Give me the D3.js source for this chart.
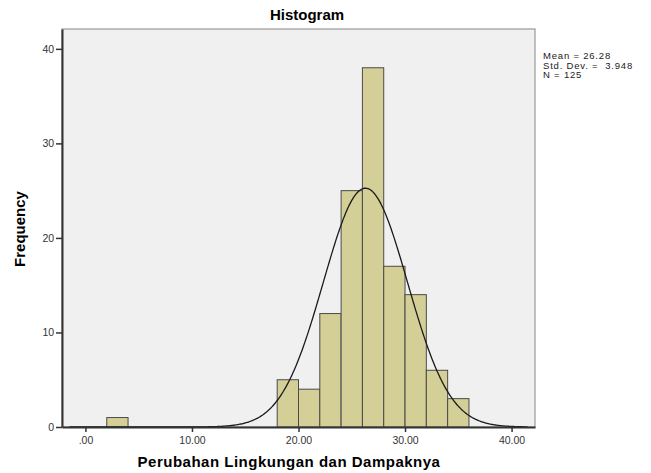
<!DOCTYPE html>
<html>
<head>
<meta charset="utf-8">
<script src="https://cdn.jsdelivr.net/npm/d3@7"></script>
<style>
body { margin: 0; background: #fff; }
text { font-family: "Liberation Sans", Arial, sans-serif; }
</style>
</head>
<body>
<svg id="chart" width="651" height="473"></svg>
<script>
// histogram bins (lower edge, width 2)
var binStarts = [2, 18, 20, 22, 24, 26, 28, 30, 32, 34];
var binCounts = [1, 5, 4, 12, 25, 38, 17, 14, 6, 3];
var binWidth = 2;
var xTicks = [0, 10, 20, 30, 40];
var yTicks = [0, 10, 20, 30, 40];
var stats = { mean: 26.28, sd: 3.948, n: 125 };
var statLines = ["Mean = 26.28", "Std. Dev. =  3.948", "N = 125"];

var svg = d3.select("#chart");
var plotL = 62, plotR = 535, plotT = 29, plotB = 427;

var x = d3.scaleLinear().domain([-2.2, 42.2]).range([plotL, plotR]);
var y = d3.scaleLinear().domain([0, 42.1]).range([plotB, plotT]);

// plot frame
svg.append("rect")
	.attr("x", plotL).attr("y", plotT)
	.attr("width", plotR - plotL).attr("height", plotB - plotT)
	.attr("fill", "#f0f0f0")
	.attr("stroke", "#999").attr("stroke-width", 1.2);

var bins = binStarts.map((s, i) => ({ x0: s, x1: s + binWidth, count: binCounts[i] }));

svg.selectAll(".bar")
	.data(bins)
	.enter()
	.append("rect")
	.classed("bar", true)
	.attr("x", d => x(d.x0))
	.attr("y", d => y(d.count))
	.attr("width", d => x(d.x1) - x(d.x0))
	.attr("height", d => y(0) - y(d.count))
	.attr("fill", "#d3cf97")
	.attr("stroke", "#4a4a4a")
	.attr("stroke-width", 1);

// normal curve scaled to counts
var pts = d3.range(-1.5, 41.6, 0.1).map(v => {
	var z = (v - stats.mean) / stats.sd;
	return [v, stats.n * binWidth / (stats.sd * Math.sqrt(2 * Math.PI)) * Math.exp(-0.5 * z * z)];
});
svg.append("path")
	.datum(pts)
	.attr("fill", "none")
	.attr("stroke", "#1a1a1a")
	.attr("stroke-width", 1.3)
	.attr("d", d3.line().x(d => x(d[0])).y(d => y(d[1])));

// axes
var xAxis = d3.axisBottom(x).tickValues(xTicks).tickSize(5).tickSizeOuter(0)
	.tickFormat(d => d === 0 ? ".00" : d3.format(".2f")(d));
var gx = svg.append("g").attr("transform", "translate(0," + plotB + ")").call(xAxis);

var yAxis = d3.axisLeft(y).tickValues(yTicks).tickSize(6).tickSizeOuter(0);
var gy = svg.append("g").attr("transform", "translate(" + plotL + ",0)").call(yAxis);

[gx, gy].forEach(g => {
	g.select(".domain").attr("stroke", "#333").attr("stroke-width", 2);
	g.selectAll(".tick line").attr("stroke", "#333").attr("stroke-width", 1.5);
	g.selectAll(".tick text").attr("font-size", 10.5).attr("fill", "#333")
		.style("font-family", "'Liberation Sans', Arial, sans-serif");
});
gx.selectAll(".tick text").attr("dy", "0.85em");
gy.selectAll(".tick text").attr("dx", "0.1em");

// titles
svg.append("text").attr("x", 307).attr("y", 20).attr("text-anchor", "middle")
	.attr("font-size", 15).attr("font-weight", "bold").text("Histogram");

svg.append("text").attr("x", 289).attr("y", 467).attr("text-anchor", "middle")
	.attr("font-size", 15).attr("font-weight", "bold").attr("letter-spacing", 0.5)
	.text("Perubahan Lingkungan dan Dampaknya");

svg.append("text").attr("transform", "translate(25,229) rotate(-90)").attr("text-anchor", "middle")
	.attr("font-size", 15).attr("font-weight", "bold").text("Frequency");

// stats box text
svg.selectAll(".stat")
	.data(statLines)
	.enter()
	.append("text")
	.classed("stat", true)
	.attr("x", 543)
	.attr("y", (d, i) => 59 + i * 9.5)
	.attr("font-size", 9.5)
	.attr("letter-spacing", 0.8)
	.attr("fill", "#222")
	.style("white-space", "pre")
	.text(d => d);
</script>
</body>
</html>
